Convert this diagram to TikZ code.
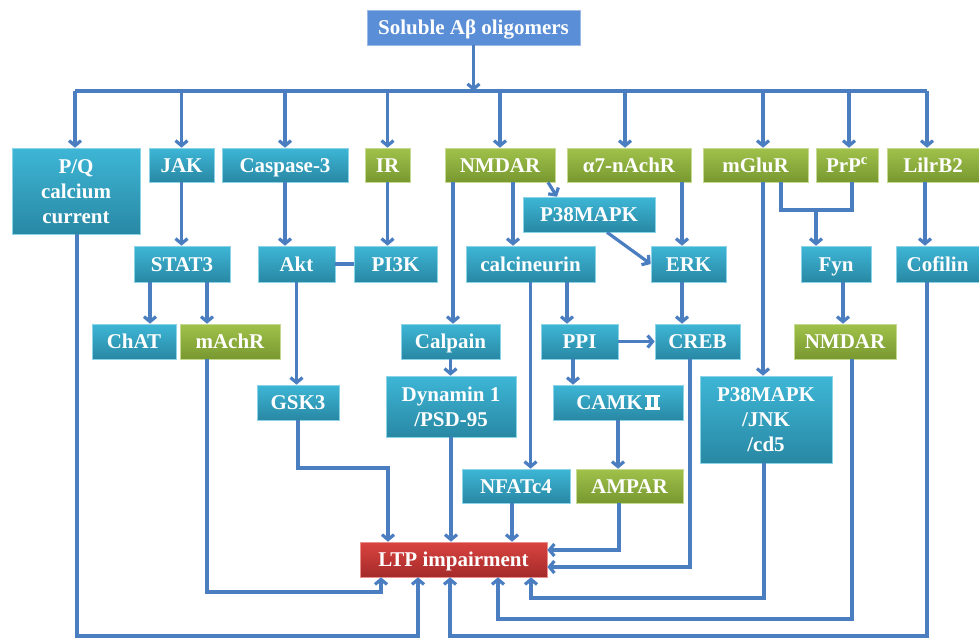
\documentclass[tikz,border=0pt]{standalone}
\usepackage{fontspec}
\setmainfont{Liberation Serif}
\usetikzlibrary{arrows.meta,calc}
\definecolor{lineblue}{RGB}{74,126,193}
\definecolor{tealtop}{RGB}{62,182,214}
\definecolor{tealbot}{RGB}{40,136,164}
\definecolor{greentop}{RGB}{160,194,74}
\definecolor{greenbot}{RGB}{120,152,48}
\definecolor{redtop}{RGB}{218,68,64}
\definecolor{redbot}{RGB}{164,42,42}
\definecolor{srcblue}{RGB}{90,142,214}
\newcommand\romtwobox{\leavevmode\kern2pt\vbox{\hrule height 2.2pt width 15pt
  \hbox to 15pt{\kern2pt\vrule width 4pt height 10pt\kern3pt\vrule width 4pt height 10pt\hfil}%
  \hrule height 2.2pt width 15pt}}
\tikzset{
  box/.style={rectangle, inner sep=0pt, text=white,
    font=\fontsize{21}{25}\selectfont\bfseries, align=center,
    text height=14pt, text depth=0pt},
  two/.style={text height=39pt, text depth=0pt},
  three/.style={text height=64pt, text depth=0pt},
  teal/.style={box, top color=tealtop, bottom color=tealbot, draw=tealtop!60!white, line width=0.6pt},
  green/.style={box, top color=greentop, bottom color=greenbot, draw=greentop!60!white, line width=0.6pt},
  redbox/.style={box, top color=redtop, bottom color=redbot, draw=redtop!60!white, line width=0.6pt},
  srcbox/.style={box, fill=srcblue, draw=srcblue!60!white, line width=0.6pt},
  conn/.style={draw=lineblue, line width=3.2pt, line join=miter},
  arr/.style={conn, -{Straight Barb[length=5pt,width=12pt]}},
}
\begin{document}
\begin{tikzpicture}[x=1pt,y=-1pt]
\useasboundingbox (0,0) rectangle (979,638);
\fill[white] (0,0) rectangle (979,638);

% nodes
\node[srcbox, minimum width=213pt, minimum height=35pt] (src) at (473.5,27.5) {Soluble Aβ oligomers};

\node[teal, three, minimum width=128pt, minimum height=86pt] (PQ) at (76,191) {P/Q\\calcium\\current};
\node[teal, minimum width=65pt, minimum height=34pt] (JAK) at (181.5,165) {JAK};
\node[teal, minimum width=126pt, minimum height=34pt] (CASP) at (285,165) {Caspase-3};
\node[green, minimum width=45pt, minimum height=34pt] (IR) at (387.5,165) {IR};
\node[green, minimum width=110pt, minimum height=34pt] (NMDAR) at (500,165) {NMDAR};
\node[green, minimum width=124pt, minimum height=34pt] (A7) at (629,165) {α7-nAchR};
\node[green, minimum width=105pt, minimum height=34pt] (MGLUR) at (755.5,165) {mGluR};
\node[green, minimum width=62pt, minimum height=34pt] (PRP) at (847,165) {PrP\textsuperscript{c}};
\node[green, minimum width=92pt, minimum height=34pt] (LILR) at (933,165) {LilrB2};

\node[teal, minimum width=132pt, minimum height=35pt] (P38) at (589,214.5) {P38MAPK};

\node[teal, minimum width=96pt, minimum height=36pt] (STAT) at (182,264) {STAT3};
\node[teal, minimum width=77pt, minimum height=36pt] (AKT) at (296.5,264) {Akt};
\node[teal, minimum width=83pt, minimum height=36pt] (PI3K) at (395.5,264) {PI3K};
\node[teal, minimum width=129pt, minimum height=36pt] (CALC) at (530.5,264) {calcineurin};
\node[teal, minimum width=75pt, minimum height=36pt] (ERK) at (688.5,264) {ERK};
\node[teal, minimum width=70pt, minimum height=36pt] (FYN) at (836,264) {Fyn};
\node[teal, minimum width=83pt, minimum height=36pt] (COF) at (937.5,264) {Cofilin};

\node[teal, minimum width=84pt, minimum height=35pt] (CHAT) at (134,341.5) {ChAT};
\node[green, minimum width=100pt, minimum height=35pt] (MACHR) at (230,341.5) {mAchR};
\node[teal, minimum width=99pt, minimum height=35pt] (CALP) at (450.5,341.5) {Calpain};
\node[teal, minimum width=77pt, minimum height=35pt] (PPI) at (579.5,341.5) {PPI};
\node[teal, minimum width=85pt, minimum height=35pt] (CREB) at (697.5,341.5) {CREB};
\node[green, minimum width=102pt, minimum height=35pt] (NMDAR2) at (845,341.5) {NMDAR};

\node[teal, minimum width=82pt, minimum height=35pt] (GSK) at (298,402.5) {GSK3};
\node[teal, two, minimum width=130pt, minimum height=61pt] (DYN) at (451,406.5) {Dynamin 1\\/PSD-95};
\node[teal, minimum width=130pt, minimum height=35pt] (CAMK) at (618,402.5) {CAMK\romtwobox};
\node[teal, three, minimum width=132pt, minimum height=87pt] (P38J) at (766,419.5) {P38MAPK\\/JNK\\/cd5};

\node[teal, minimum width=108pt, minimum height=34pt] (NFAT) at (516,486) {NFATc4};
\node[green, minimum width=107pt, minimum height=34pt] (AMPAR) at (629.5,486) {AMPAR};

\node[redbox, minimum width=187pt, minimum height=35pt] (LTP) at (453.5,559.5) {LTP impairment};

% junction coordinates
\coordinate (busL) at (75,91);
\coordinate (busR) at (927,91);
\coordinate (a7t) at (625,148);
\coordinate (mgt) at (763,148);
\coordinate (prt) at (849,148);
\coordinate (fy1) at (781,210);
\coordinate (fy2) at (852,210);
\coordinate (fy3) at (816,210);
\coordinate (g1) at (388,468);
\coordinate (a1) at (619,550);
\coordinate (c1) at (690,567);
\coordinate (m1) at (207,592);
\coordinate (m2) at (381,592);
\coordinate (p1) at (77,636);
\coordinate (p2) at (418,636);
\coordinate (q1) at (927,636);
\coordinate (q2) at (450,636);
\coordinate (n1) at (852,619);
\coordinate (n2) at (498,619);
\coordinate (j1) at (764,598);
\coordinate (j2) at (531,598);

% bus
\draw[conn] (busL) -- (busR);
\draw[arr] (src.south) -- (src.south |- busL);
\draw[arr] (busL) -- (PQ.north -| busL);
\draw[arr] (JAK.north |- busL) -- (JAK.north);
\draw[arr] (CASP.north |- busL) -- (CASP.north);
\draw[arr] (IR.north |- busL) -- (IR.north);
\draw[arr] (NMDAR.north |- busL) -- (NMDAR.north);
\draw[arr] (a7t |- busL) -- (A7.north -| a7t);
\draw[arr] (mgt |- busL) -- (MGLUR.north -| mgt);
\draw[arr] (prt |- busL) -- (PRP.north -| prt);
\draw[arr] (busR) -- (LILR.north -| busR);

% second level
\draw[arr] (JAK.south) -- (STAT.north -| JAK.south);
\draw[arr] (CASP.south) -- (AKT.north -| CASP.south);
\draw[arr] (IR.south) -- (PI3K.north -| IR.south);
\draw[arr] ($(NMDAR.south)+(13,0)$) -- (CALC.north -| {$(NMDAR.south)+(13,0)$});
\draw[arr] ($(NMDAR.south)+(48,0)$) -- ($(P38.north)+(-32,0)$);
\draw[arr] ($(NMDAR.south)+(-47,0)$) -- (CALP.north -| {$(NMDAR.south)+(-47,0)$});
\draw[arr] ($(A7.south)+(53,0)$) -- (ERK.north -| {$(A7.south)+(53,0)$});
\draw[arr] ($(P38.south)+(18,0)$) -- (ERK.west);
\draw[arr] ($(MGLUR.south)+(7.5,0)$) -- (P38J.north -| {$(MGLUR.south)+(7.5,0)$});
\draw[conn] (MGLUR.south -| fy1) -- (fy1) -- (fy2) -- (PRP.south -| fy2);
\draw[arr] (fy3) -- (FYN.north -| fy3);
\draw[arr] ($(LILR.south)+(-8,0)$) -- (COF.north -| {$(LILR.south)+(-8,0)$});
\draw[conn] (AKT.east) -- (PI3K.west);

% third level
\draw[arr] ($(STAT.south)+(-32,0)$) -- (CHAT.north -| {$(STAT.south)+(-32,0)$});
\draw[arr] ($(STAT.south)+(25,0)$) -- (MACHR.north -| {$(STAT.south)+(25,0)$});
\draw[arr] ($(CALC.south)+(36.5,0)$) -- (PPI.north -| {$(CALC.south)+(36.5,0)$});
\draw[arr] ($(ERK.south)+(-6.5,0)$) -- (CREB.north -| {$(ERK.south)+(-6.5,0)$});
\draw[arr] (PPI.east) -- (CREB.west);
\draw[arr] ($(FYN.south)+(7,0)$) -- (NMDAR2.north -| {$(FYN.south)+(7,0)$});
\draw[arr] (AKT.south) -- (GSK.north -| AKT.south);
\draw[arr] (CALP.south) -- (DYN.north -| CALP.south);
\draw[arr] ($(PPI.south)+(-6.5,0)$) -- (CAMK.north -| {$(PPI.south)+(-6.5,0)$});
\draw[arr] (CALC.south) -- (NFAT.north -| CALC.south);
\draw[arr] (CAMK.south) -- (AMPAR.north -| CAMK.south);

% into LTP
\draw[arr] (GSK.south) |- (g1) -- (LTP.north -| g1);
\draw[arr] (DYN.south) -- (LTP.north -| DYN.south);
\draw[arr] ($(NFAT.south)+(-4,0)$) -- (LTP.north -| {$(NFAT.south)+(-4,0)$});
\draw[arr] (AMPAR.south -| a1) -- (a1) -- (LTP.east |- a1);
\draw[arr] (CREB.south -| c1) -- (c1) -- (LTP.east |- c1);
\draw[arr] (MACHR.south -| m1) -- (m1) -- (m2) -- (LTP.south -| m2);
\draw[arr] (PQ.south -| p1) -- (p1) -- (p2) -- (LTP.south -| p2);
\draw[arr] (COF.south -| q1) -- (q1) -- (q2) -- (LTP.south -| q2);
\draw[arr] (NMDAR2.south -| n1) -- (n1) -- (n2) -- (LTP.south -| n2);
\draw[arr] (P38J.south -| j1) -- (j1) -- (j2) -- (LTP.south -| j2);
\end{tikzpicture}
\end{document}
